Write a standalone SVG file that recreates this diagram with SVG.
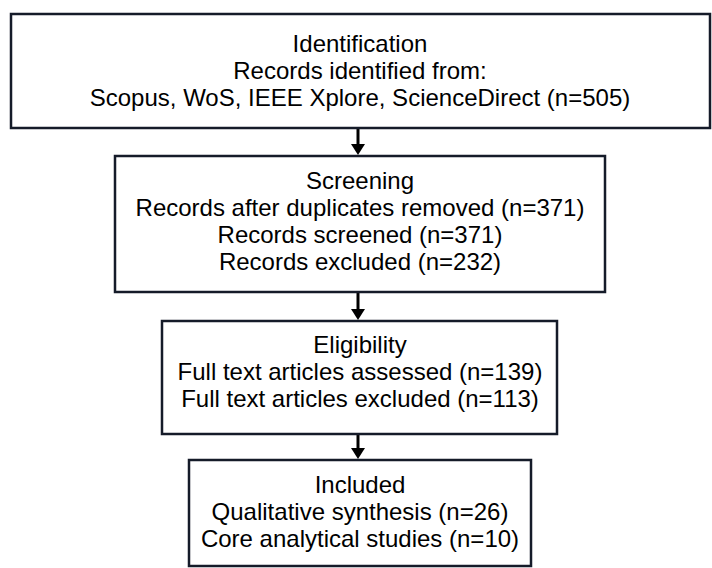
<svg xmlns="http://www.w3.org/2000/svg" width="712" height="568" viewBox="0 0 712 568">
<defs>
<style>
.box{fill:#ffffff;stroke:#151b29;stroke-width:2.5}
.t{font-family:"Liberation Sans",Arial,sans-serif;font-size:24px;fill:#000;text-anchor:middle}
.c{stroke:#000;stroke-width:3;fill:none}
.ah{fill:#000}
</style>
</defs>
<rect width="712" height="568" fill="#fff"/>
<g id="connectors">
<line class="c" x1="358" y1="129" x2="358" y2="145"/>
<path class="ah" d="M351,144 L365,144 L358,155 z"/>
<line class="c" x1="358" y1="293" x2="358" y2="310"/>
<path class="ah" d="M351,309 L365,309 L358,320 z"/>
<line class="c" x1="358" y1="435" x2="358" y2="449"/>
<path class="ah" d="M351,448 L365,448 L358,459 z"/>
</g>
<g id="identification">
<rect class="box" x="11" y="14" width="699" height="114"/>
<text class="t" x="360" y="52">Identification</text>
<text class="t" x="360" y="79">Records identified from:</text>
<text class="t" x="360" y="106">Scopus, WoS, IEEE Xplore, ScienceDirect (n=505)</text>
</g>
<g id="screening">
<rect class="box" x="115" y="156" width="490" height="136"/>
<text class="t" x="360" y="189">Screening</text>
<text class="t" x="360" y="216">Records after duplicates removed (n=371)</text>
<text class="t" x="360" y="243">Records screened (n=371)</text>
<text class="t" x="360" y="270">Records excluded (n=232)</text>
</g>
<g id="eligibility">
<rect class="box" x="162" y="321" width="395" height="113"/>
<text class="t" x="360" y="353">Eligibility</text>
<text class="t" x="360" y="380">Full text articles assessed (n=139)</text>
<text class="t" x="360" y="407">Full text articles excluded (n=113)</text>
</g>
<g id="included">
<rect class="box" x="189" y="460" width="342" height="106"/>
<text class="t" x="360" y="493">Included</text>
<text class="t" x="360" y="520">Qualitative synthesis (n=26)</text>
<text class="t" x="360" y="547">Core analytical studies (n=10)</text>
</g>
</svg>
